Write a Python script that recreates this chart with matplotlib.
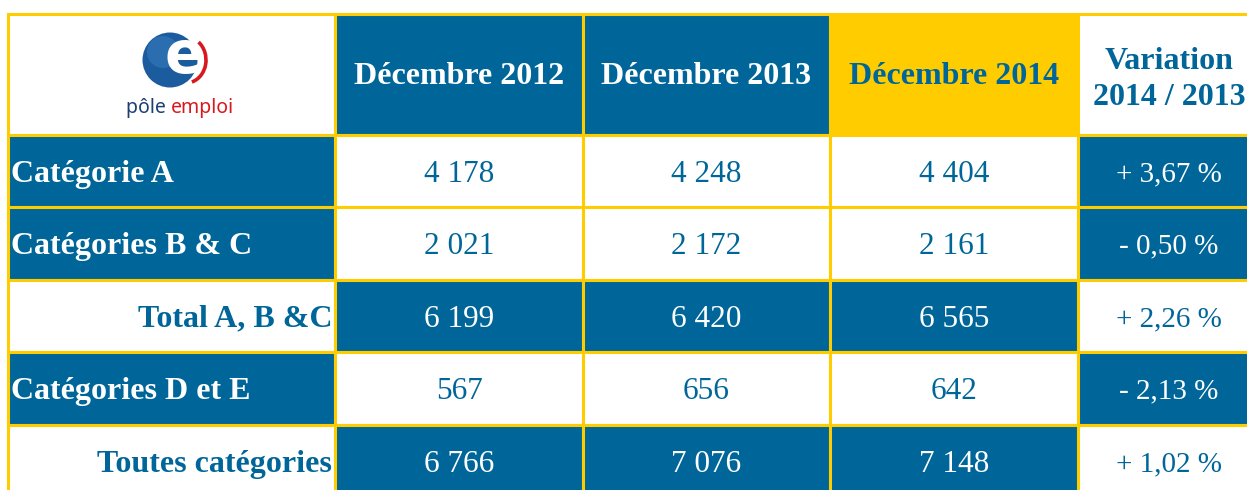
import matplotlib
matplotlib.use("Agg")
import matplotlib.pyplot as plt
from matplotlib.patches import Rectangle, Circle, Arc

# table content
headers = ["Décembre 2012", "Décembre 2013", "Décembre 2014", "Variation\n2014 / 2013"]
row_labels = ["Catégorie A", "Catégories B & C", "Total A, B &C", "Catégories D et E", "Toutes catégories"]
dec_2012 = [4178, 2021, 6199, 567, 6766]
dec_2013 = [4248, 2172, 6420, 656, 7076]
dec_2014 = [4404, 2161, 6565, 642, 7148]
variation = [3.67, -0.50, 2.26, -2.13, 1.02]

BLUE = "#006699"
YELLOW = "#ffcc00"
WHITE = "#ffffff"

# layout (pixels)
col_edges = [8, 335, 583, 830, 1078, 1260]
row_edges = [14, 135, 207, 280, 352, 425, 497]
label_align = ["left", "left", "right", "left", "right"]


def fmt_int(v):
    return f"{v:,}".replace(",", " ")


def fmt_var(v):
    sign = "+" if v >= 0 else "-"
    return f"{sign} {abs(v):.2f} %".replace(".", ",")


fig = plt.figure(figsize=(12.47, 4.90), dpi=100)
ax = fig.add_axes([0, 0, 1, 1])
ax.set_xlim(0, 1247)
ax.set_ylim(490, 0)
ax.axis("off")

serif = "Liberation Serif"


def cell(c, r, fill, text, color, weight, size, ha="center", linespacing=1.2, dy=3):
    x0, x1 = col_edges[c], col_edges[c + 1]
    y0, y1 = row_edges[r], row_edges[r + 1]
    ax.add_patch(Rectangle((x0, y0), x1 - x0, y1 - y0, facecolor=fill,
                           edgecolor=YELLOW, linewidth=2.2))
    if not text:
        return
    if ha == "left":
        tx = x0 + 3
    elif ha == "right":
        tx = x1 - 3
    else:
        tx = (x0 + x1) / 2
    ax.text(tx, (y0 + y1) / 2 + dy, text, ha=ha, va="center", color=color,
            fontsize=size, fontweight=weight, family=serif, linespacing=linespacing)


# header row
header_fill = [BLUE, BLUE, YELLOW, WHITE]
cell(0, 0, WHITE, "", BLUE, "bold", 23)
for i, h in enumerate(headers):
    fg = WHITE if header_fill[i] == BLUE else BLUE
    shift = 5 if "\n" in h else 2
    cell(i + 1, 0, header_fill[i], h, fg, "bold", 23, linespacing=1.35, dy=shift)

# body rows
for r in range(len(row_labels)):
    label_blue = label_align[r] == "left"
    lab_fill = BLUE if label_blue else WHITE
    lab_fg = WHITE if label_blue else BLUE
    cell(0, r + 1, lab_fill, row_labels[r], lab_fg, "bold", 23, ha=label_align[r])
    num_fill = WHITE if label_blue else BLUE
    num_fg = BLUE if label_blue else WHITE
    for c, series in enumerate([dec_2012, dec_2013, dec_2014]):
        cell(c + 1, r + 1, num_fill, fmt_int(series[r]), num_fg, "normal", 22.5)
    cell(4, r + 1, lab_fill, fmt_var(variation[r]), lab_fg, "normal", 21)

# logo
ax.add_patch(Circle((170, 60), 27.5, facecolor="#1b5c9f", edgecolor="none", zorder=3))
ax.add_patch(Circle((163, 52), 16, facecolor="#3f86c6", edgecolor="none", alpha=0.45, zorder=3))
ax.add_patch(Arc((186, 60), 40, 46, theta1=-55, theta2=75, color="#d7191f", lw=2.6, zorder=3.5))
ax.text(184, 57, "e", ha="center", va="center", color=WHITE, fontsize=42,
        fontweight="bold", family="DejaVu Sans", zorder=4)
ax.text(171, 108, "pôle ", ha="right", va="center", color="#1b3f73", fontsize=14,
        family="Noto Sans", zorder=4)
ax.text(171, 108, "emploi", ha="left", va="center", color="#d7191f", fontsize=14,
        family="Noto Sans", zorder=4)

fig.savefig("out.png", dpi=100)
